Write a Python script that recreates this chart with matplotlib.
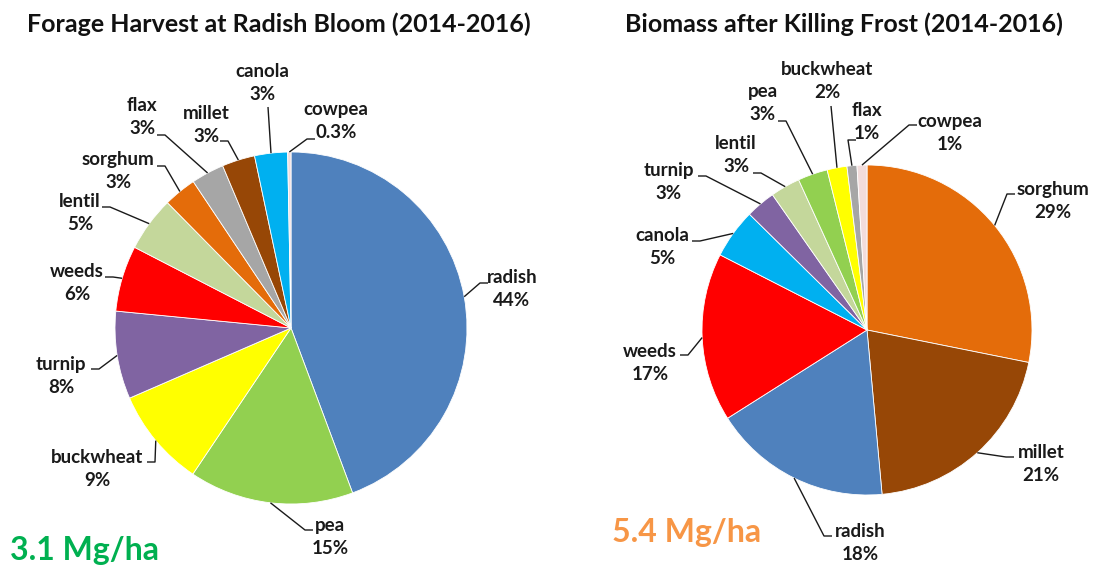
import numpy as np
import matplotlib.pyplot as plt

plt.rcParams['font.family'] = ['Lato', 'DejaVu Sans']

# 数据：两个时期各作物所占比例（%）
bloom_crops = ['radish', 'pea', 'buckwheat', 'turnip', 'weeds', 'lentil',
               'sorghum', 'flax', 'millet', 'canola', 'cowpea']
bloom_pct = [44, 15, 9, 8, 6, 5, 3, 3, 3, 3, 0.3]
bloom_pct_text = ['44%', '15%', '9%', '8%', '6%', '5%', '3%', '3%', '3%', '3%', '0.3%']

frost_crops = ['sorghum', 'millet', 'radish', 'weeds', 'canola', 'turnip',
               'lentil', 'pea', 'buckwheat', 'flax', 'cowpea']
frost_pct = [29, 21, 18, 17, 5, 3, 3, 3, 2, 1, 1]
frost_pct_text = ['29%', '21%', '18%', '17%', '5%', '3%', '3%', '3%', '2%', '1%', '1%']

bloom_total = '3.1 Mg/ha'
frost_total = '5.4 Mg/ha'

# 每种作物固定颜色
crop_colors = {
    'radish': '#4F81BD', 'pea': '#92D050', 'buckwheat': '#FFFF00',
    'turnip': '#8064A2', 'weeds': '#FF0000', 'lentil': '#C4D79B',
    'sorghum': '#E46C0A', 'flax': '#A6A6A6', 'millet': '#974706',
    'canola': '#00B0F0', 'cowpea': '#F2DCDB',
}

W, H = 1095, 567

# 标签位置（像素，左上角为原点）：文字中心、引线端点、引线从哪一侧接入
bloom_label_pos = {
    'radish': ((512, 289), (488, 283), 'L'),
    'pea': ((330, 537), (313, 530), 'L'),
    'buckwheat': ((97, 469), (147, 462), 'R'),
    'turnip': ((61, 376), (91, 369), 'R'),
    'weeds': ((77, 283), (105, 277), 'R'),
    'lentil': ((80, 213), (102, 207), 'R'),
    'sorghum': ((118, 171), (157, 166), 'R'),
    'flax': ((142, 117), (157, 135), 'R'),
    'millet': ((206, 125), (220, 141), 'R'),
    'canola': ((262, 83), (268, 107), 'B'),
    'cowpea': ((336, 121), (315, 139), 'L'),
}
frost_label_pos = {
    'sorghum': ((1053, 201), (1015, 194), 'L'),
    'millet': ((1041, 464), (1014, 457), 'L'),
    'radish': ((860, 543), (832, 536), 'L'),
    'weeds': ((650, 363), (680, 355), 'R'),
    'canola': ((662, 247), (692, 241), 'R'),
    'turnip': ((669, 182), (698, 176), 'R'),
    'lentil': ((736, 155), (753, 173), 'R'),
    'pea': ((763, 103), (778, 121), 'R'),
    'buckwheat': ((827, 81), (831, 106), 'B'),
    'flax': ((867, 122), (856, 140), 'L'),
    'cowpea': ((950, 133), (917, 125), 'L'),
}

fig = plt.figure(figsize=(W / 100, H / 100), dpi=100)
ax = fig.add_axes([0, 0, 1, 1])


def draw_pie(crops, pct, pct_text, center, radius, label_pos):
    cx, cy = center[0], H - center[1]
    wedges, _ = ax.pie(pct, colors=[crop_colors[c] for c in crops],
                       startangle=90, counterclock=False,
                       center=(cx, cy), radius=radius,
                       wedgeprops=dict(edgecolor='white', linewidth=0.6))
    for w, name, txt in zip(wedges, crops, pct_text):
        mid = np.deg2rad((w.theta1 + w.theta2) / 2)
        ex, ey = cx + radius * np.cos(mid), cy + radius * np.sin(mid)
        (tx, ty), (axp, ayp), side = label_pos[name]
        ayp = H - ayp
        if side == 'B':
            xs, ys = [ex, axp], [ey, ayp]
        else:
            elbow = axp - 8 if side == 'L' else axp + 8
            xs, ys = [ex, elbow, axp], [ey, ayp, ayp]
        ax.plot(xs, ys, color='#1a1a1a', lw=1.0, solid_capstyle='butt')
        ax.text(tx, H - ty, name + '\n' + txt, ha='center', va='center',
                fontsize=13.5, fontweight='bold', color='#1a1a1a',
                linespacing=1.45)


draw_pie(bloom_crops, bloom_pct, bloom_pct_text, (291, 328), 176, bloom_label_pos)
draw_pie(frost_crops, frost_pct, frost_pct_text, (867, 330), 165, frost_label_pos)

ax.text(279, H - 24, 'Forage Harvest at Radish Bloom (2014-2016)', ha='center',
        va='center', fontsize=18, fontweight='bold', color='#111111')
ax.text(844, H - 24, 'Biomass after Killing Frost (2014-2016)', ha='center',
        va='center', fontsize=18, fontweight='bold', color='#111111')

ax.text(10, H - 560, bloom_total, ha='left', va='baseline',
        fontsize=23, fontweight='bold', color='#00B050')
ax.text(612, H - 542, frost_total, ha='left', va='baseline',
        fontsize=23, fontweight='bold', color='#F79646')

ax.set_xlim(0, W)
ax.set_ylim(0, H)
ax.set_aspect('auto')
ax.axis('off')

fig.savefig('out.png', dpi=100)
